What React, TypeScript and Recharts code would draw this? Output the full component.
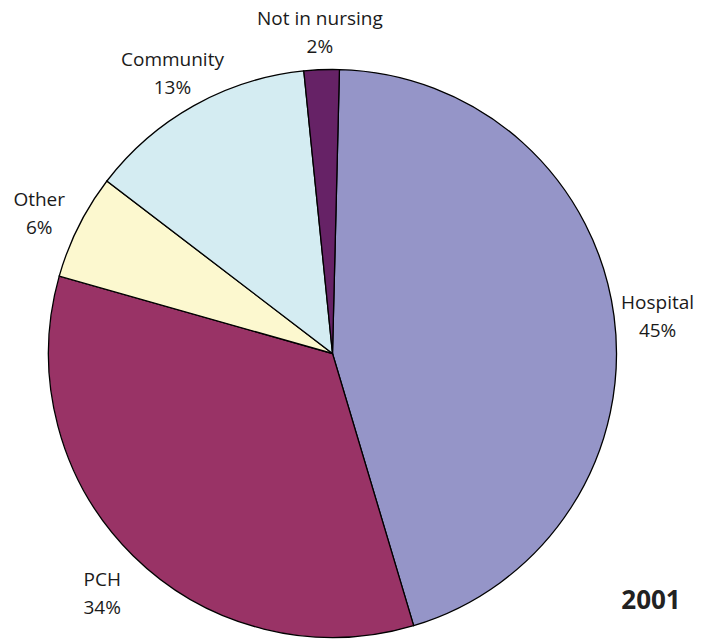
import React from 'react';
import { PieChart, Pie, Cell, Customized } from 'recharts';

const categories = ['Hospital', 'PCH', 'Other', 'Community', 'Not in nursing'];
const shares = [45, 34, 6, 13, 2];
const percentLabels = ['45%', '34%', '6%', '13%', '2%'];
const colors = ['#9595c8', '#993366', '#fcf8cf', '#d4ecf2', '#662266'];
const yearLabel = '2001';

const data = categories.map((name, i) => ({ name, value: shares[i], pct: percentLabels[i] }));

const FONT = '"Open Sans", "DejaVu Sans", sans-serif';
const RAD = Math.PI / 180;

const renderLabel = (props: any) => {
  const { cx, cy, midAngle, outerRadius, index } = props;
  const r = outerRadius + 44;
  const x = cx + r * Math.cos(-midAngle * RAD);
  const y = cy + r * Math.sin(-midAngle * RAD) + 6;
  return (
    <text
      x={x}
      y={y}
      textAnchor="middle"
      fontFamily={FONT}
      fontSize={19}
      fill="#1a1a1a"
    >
      <tspan x={x} dy={-7}>{data[index].name}</tspan>
      <tspan x={x} dy={28}>{data[index].pct}</tspan>
    </text>
  );
};

const YearText = () => (
  <text x={651} y={609} textAnchor="middle" fontFamily={FONT} fontWeight={700} fontSize={26} fill="#222">
    {yearLabel}
  </text>
);

export default function App() {
  return (
    <div style={{ position: 'absolute', left: 0, top: 0, width: 711, height: 639, background: '#fff' }}>
      <PieChart width={711} height={639} margin={{ top: 0, right: 0, bottom: 0, left: 0 }}>
        <Pie
          data={data}
          dataKey="value"
          nameKey="name"
          cx={332.5}
          cy={353.5}
          outerRadius={284}
          startAngle={88.6}
          endAngle={-271.4}
          stroke="#000"
          strokeWidth={1.3}
          label={renderLabel}
          labelLine={false}
          isAnimationActive={false}
        >
          {data.map((d, i) => (
            <Cell key={d.name} fill={colors[i]} />
          ))}
        </Pie>
        <Customized component={YearText} />
      </PieChart>
    </div>
  );
}
